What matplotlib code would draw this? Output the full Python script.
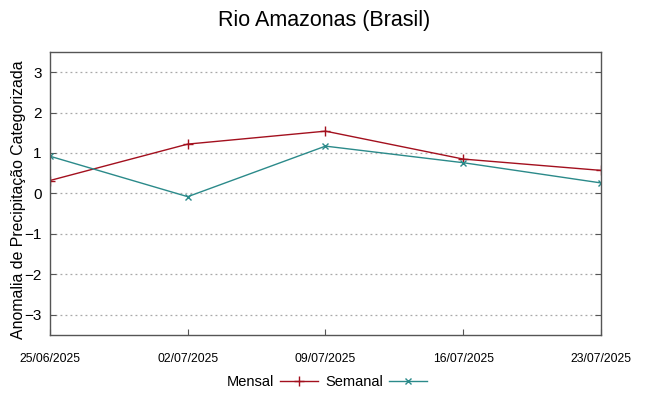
#!/usr/bin/env python3

import numpy as np
import matplotlib
matplotlib.use('Agg')
import matplotlib.pyplot as plt
import matplotlib.dates as mdates
from datetime import date

# dados
datas = [date(2025, 6, 25), date(2025, 7, 2), date(2025, 7, 9),
         date(2025, 7, 16), date(2025, 7, 23)]
mensal = [0.32, 1.22, 1.54, 0.85, 0.57]
semanal = [0.92, -0.08, 1.17, 0.76, 0.26]
yticks = [-3, -2, -1, 0, 1, 2, 3]


def main():
    plt.rcParams['font.family'] = ['Liberation Sans', 'DejaVu Sans']

    fig = plt.figure(figsize=(6.49, 3.96), dpi=100)
    ax = fig.add_axes([0.077, 0.154, 0.849, 0.715])

    ax.plot(datas, mensal, color='#a3101e', lw=1.0, marker='+', ms=7,
            mew=1.0, label='Mensal')
    ax.plot(datas, semanal, color='#2b8a8a', lw=1.0, marker='x', ms=5,
            mew=1.0, label='Semanal')

    ax.set_xlim(datas[0], datas[-1])
    ax.set_ylim(-3.5, 3.5)
    ax.set_xticks(datas)
    ax.xaxis.set_major_formatter(mdates.DateFormatter('%d/%m/%Y'))
    ax.set_yticks(yticks)

    # grade horizontal pontilhada
    for y in yticks:
        ax.axhline(y, color='#a8a8a8', lw=0.9, ls=(0, (1.5, 2.5)), zorder=0)

    ax.tick_params(axis='x', direction='in', labelsize=8.8, pad=13,
                   length=4, color='#555555')
    ax.tick_params(axis='y', direction='in', labelsize=11, right=True,
                   length=4, color='#555555', pad=6)
    for s in ax.spines.values():
        s.set_color('#555555')
        s.set_linewidth(1.0)

    ax.set_ylabel('Anomalia de Precipitação Categorizada', fontsize=11.4)
    ax.yaxis.set_label_coords(-0.044, 0.477)
    fig.suptitle('Rio Amazonas (Brasil)', fontsize=15.5, y=0.975)

    fig.legend(loc='center', bbox_to_anchor=(0.504, 0.035), ncol=2,
               frameon=False, markerfirst=False, fontsize=10.5,
               handlelength=2.6, handletextpad=0.4, columnspacing=0.5)

    fig.savefig('out.png', dpi=100)


if __name__ == "__main__":
    main()
